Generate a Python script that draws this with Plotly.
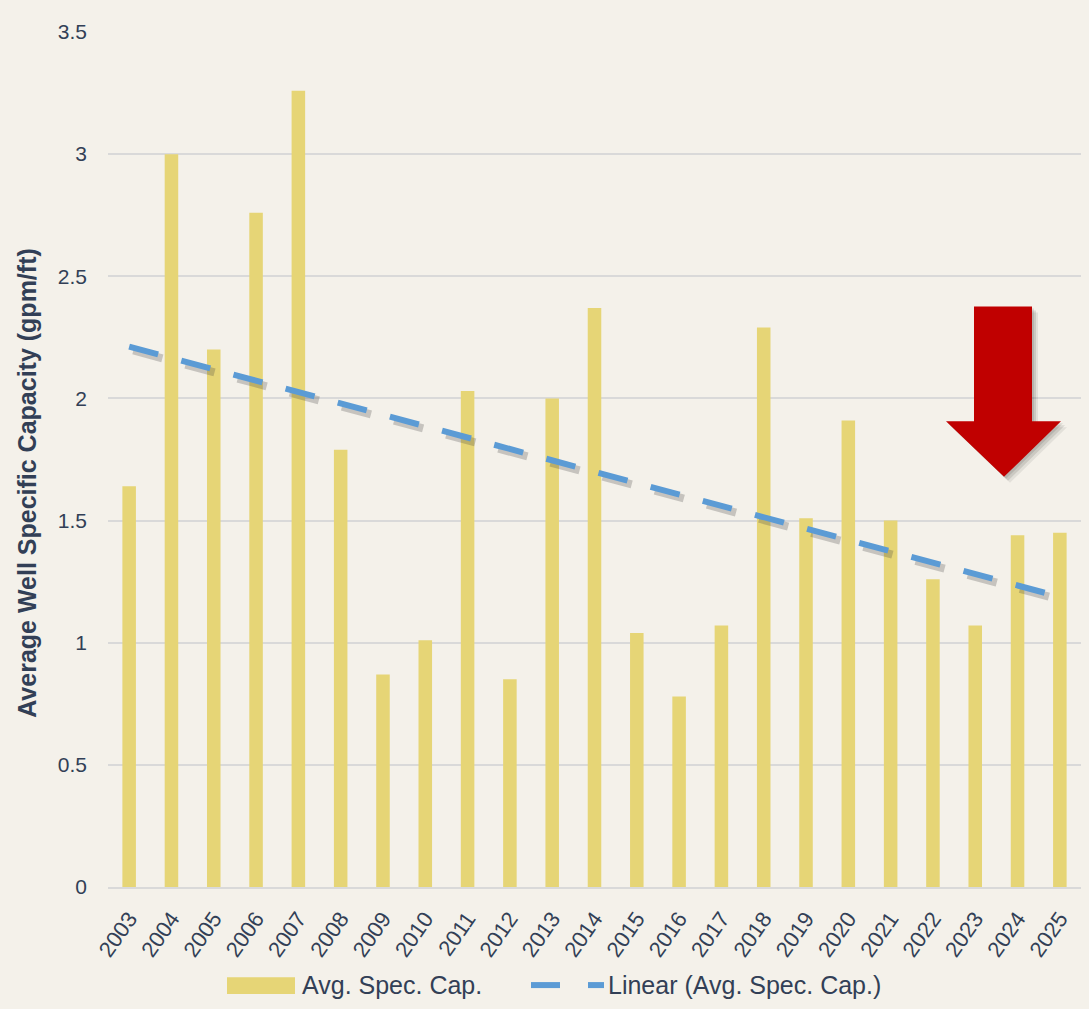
import numpy as np
import plotly.graph_objects as go

years = list(range(2003, 2026))
spec_cap = [1.64, 3.00, 2.20, 2.76, 3.26, 1.79, 0.87, 1.01, 2.03, 0.85, 2.00, 2.37,
            1.04, 0.78, 1.07, 2.29, 1.51, 1.91, 1.50, 1.26, 1.07, 1.44, 1.45]
y_ticks = [0, 0.5, 1, 1.5, 2, 2.5, 3, 3.5]
y_title = "Average Well Specific Capacity (gpm/ft)"
bar_name = "Avg. Spec. Cap."
trend_name = "Linear (Avg. Spec. Cap.)"

BG = "#F4F1EA"
TXT = "#323F56"
BAR = "#E6D576"
BLUE = "#5B9BD5"
RED = "#C00000"
FONT = "Liberation Sans, Arial, sans-serif"

W, H = 1089, 1009
OFF = 8  # page body margin offset
# plot area in screen pixels
L, R, T, B = 108, 1081, 24, 887


def px(x):
    return (x - L) / (R - L)


def py(y):
    return (B - y) / (B - T)


# Linear trendline (least squares, as in the spreadsheet trendline)
xs = np.array(years, dtype=float)
coef = np.polyfit(xs, np.array(spec_cap), 1)
trend = np.polyval(coef, xs)

fig = go.Figure()
fig.add_trace(go.Bar(x=years, y=spec_cap, name=bar_name, marker=dict(color=BAR, line=dict(width=0)),
                     width=0.32, showlegend=False))
# soft shadow of trendline
fig.add_trace(go.Scatter(x=xs + 0.1, y=trend - 0.016, mode="lines",
                         line=dict(color="rgba(60,60,60,0.25)", width=8, dash="30px,24px"),
                         showlegend=False, hoverinfo="skip"))
fig.add_trace(go.Scatter(x=xs, y=trend, mode="lines", name=trend_name,
                         line=dict(color=BLUE, width=6, dash="30px,24px"),
                         showlegend=False))

shapes = []
arrow = [(974, 301), (1032, 301), (1032, 417), (1061, 417), (1004, 473), (946, 417), (974, 417)]


def path(pts, dx=0, dy=0):
    return "M " + " L ".join(f"{px(x + dx):.5f},{py(y + dy):.5f}" for x, y in pts) + " Z"


for d, a in [(6, 0.07), (4, 0.10), (2, 0.10)]:
    shapes.append(dict(type="path", xref="paper", yref="paper", path=path(arrow, d, d),
                       fillcolor=f"rgba(0,0,0,{a})", line=dict(width=0), layer="above"))
shapes.append(dict(type="path", xref="paper", yref="paper", path=path(arrow),
                   fillcolor=RED, line=dict(width=0), layer="above"))

# custom legend
shapes.append(dict(type="rect", xref="paper", yref="paper", x0=px(227), x1=px(295), y0=py(995), y1=py(978),
                   fillcolor=BAR, line=dict(width=0)))
shapes.append(dict(type="line", xref="paper", yref="paper", x0=px(531), x1=px(560), y0=py(986), y1=py(986),
                   line=dict(color=BLUE, width=6)))
shapes.append(dict(type="line", xref="paper", yref="paper", x0=px(588), x1=px(604), y0=py(986), y1=py(986),
                   line=dict(color=BLUE, width=6)))

annotations = [
    dict(text=bar_name, xref="paper", yref="paper", x=px(300), y=py(986), xanchor="left", yanchor="middle",
         showarrow=False, font=dict(size=25, color=TXT, family=FONT)),
    dict(text=trend_name, xref="paper", yref="paper", x=px(606), y=py(986), xanchor="left", yanchor="middle",
         showarrow=False, font=dict(size=25, color=TXT, family=FONT)),
    dict(text=f"<b>{y_title}</b>", xref="paper", yref="paper", x=px(27), y=py(479), xanchor="center",
         yanchor="middle", textangle=-90, showarrow=False, font=dict(size=25, color=TXT, family=FONT)),
]

fig.update_layout(
    width=W, height=H,
    margin=dict(l=L - OFF, r=W + OFF - R, t=T - OFF, b=H + OFF - B, pad=0),
    paper_bgcolor=BG, plot_bgcolor=BG,
    font=dict(family=FONT, color=TXT),
    shapes=shapes, annotations=annotations,
    showlegend=False,
)
fig.update_xaxes(range=[2002.5, 2025.5], tickvals=years, ticktext=[str(y) for y in years],
                 tickangle=-55, tickfont=dict(size=22, color=TXT, family=FONT),
                 showgrid=False, zeroline=False, showline=True, linecolor="#D9D9D9", linewidth=2,
                 ticks="", ticklabelstandoff=8)
fig.update_yaxes(range=[0, 3.5], tickvals=y_ticks, ticktext=[f"{v:g}" for v in y_ticks],
                 tickfont=dict(size=21, color=TXT, family=FONT),
                 showgrid=True, gridcolor="#D9D9D9", gridwidth=2, zeroline=False,
                 showline=False, ticks="", ticklabelstandoff=20)

fig.write_html("out.html", post_script=f"document.body.style.background='{BG}';")
